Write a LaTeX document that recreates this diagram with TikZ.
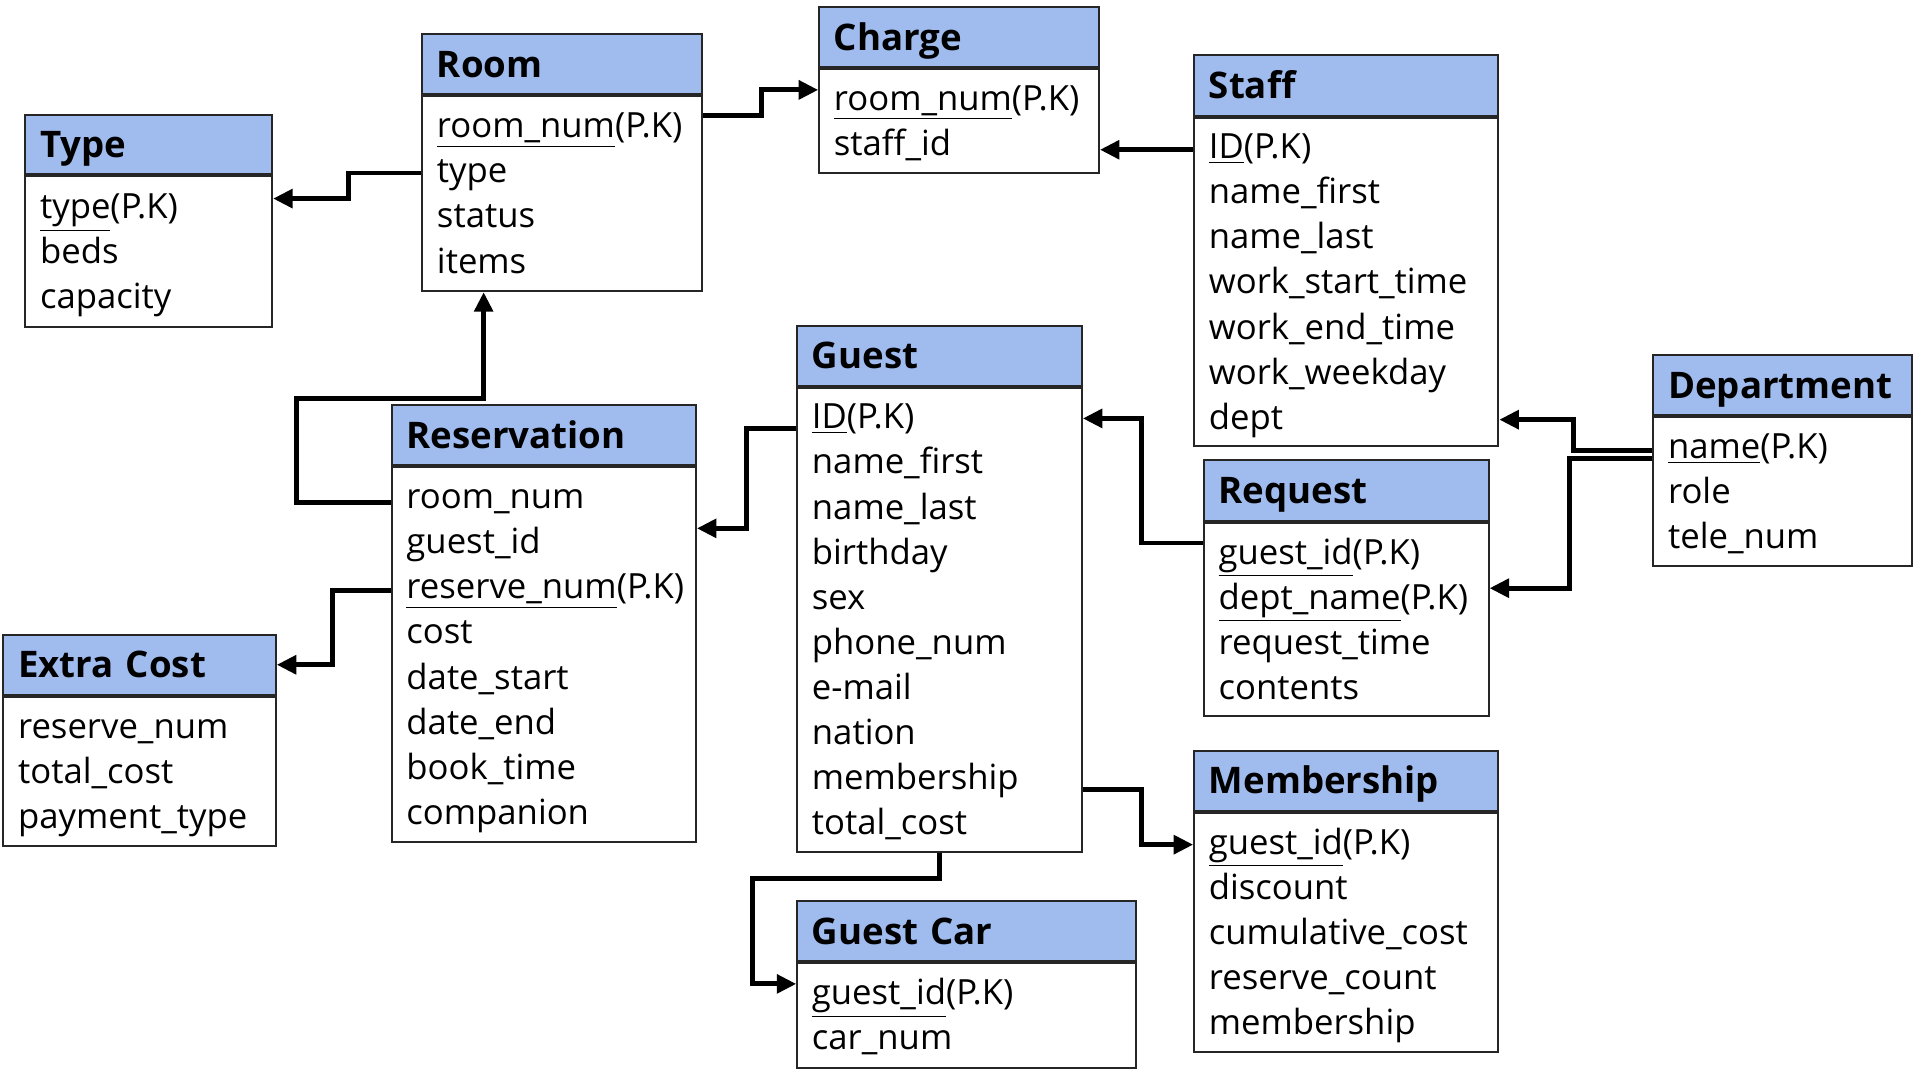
\documentclass[tikz,border=0pt]{standalone}
\usepackage{fontspec}
\setmainfont{Open Sans}
\usetikzlibrary{arrows.meta,calc}

\definecolor{headblue}{RGB}{160,188,238}
\newcommand\tblfont{\fontsize{14.2}{18.45}\selectfont}
\newcommand\tblheadfont{\fontsize{15}{17}\selectfont\bfseries}

\tikzset{
  tblhead/.style={draw=black!85, fill=headblue, line width=0.8pt, anchor=north west,
    inner xsep=6pt, inner ysep=0pt, minimum height=24.5pt, text height=10.8pt, text depth=0pt,
    align=left, font=\tblheadfont},
  tblbody/.style={draw=black!85, fill=white, line width=0.8pt, anchor=north west,
    inner xsep=6pt, inner ysep=0pt, align=left, font=\tblfont,
    execute at begin node=\rule{0pt}{15.3pt}, execute at end node=\rule[-5.5pt]{0pt}{5.5pt}},
  fk/.style={line width=2pt, -{Triangle[length=8pt,width=7.5pt]}}
}

\begin{document}
\begin{tikzpicture}[x=0.5pt,y=-0.5pt]
\useasboundingbox (0,0) rectangle (1568,885);

% tables
\node[tblhead, text width=89pt] (type) at (20,93) {Type};
\node[tblbody, text width=89pt, minimum height=61.5pt] (typeb) at (type.south west)
  {\underline{type}(P.K)\\ beds\\ capacity};

\node[tblhead, text width=102.5pt] (room) at (345,27) {Room};
\node[tblbody, text width=102.5pt, minimum height=80pt] (roomb) at (room.south west)
  {\underline{room\_num}(P.K)\\ type\\ status\\ items};

\node[tblhead, text width=102.5pt] (charge) at (670,5) {Charge};
\node[tblbody, text width=102.5pt, minimum height=42.5pt] (chargeb) at (charge.south west)
  {\underline{room\_num}(P.K)\\ staff\_id};

\node[tblhead, text width=112.5pt, minimum height=25pt] (staff) at (977,44) {Staff};
\node[tblbody, text width=112.5pt, minimum height=134.5pt] (staffb) at (staff.south west)
  {\underline{ID}(P.K)\\ name\_first\\ name\_last\\ work\_start\_time\\ work\_end\_time\\ work\_weekday\\ dept};

\node[tblhead, text width=94pt] (dept) at (1353,290) {Department};
\node[tblbody, text width=94pt, minimum height=61pt] (deptb) at (dept.south west)
  {\underline{name}(P.K)\\ role\\ tele\_num};

\node[tblhead, text width=104.5pt] (guest) at (652,266) {Guest};
\node[tblbody, text width=104.5pt, minimum height=190pt] (guestb) at (guest.south west)
  {\underline{ID}(P.K)\\ name\_first\\ name\_last\\ birthday\\ sex\\ phone\_num\\ e-mail\\ nation\\ membership\\ total\_cost};

\node[tblhead, text width=112.5pt] (resv) at (320,331) {Reservation};
\node[tblbody, text width=112.5pt, minimum height=153.5pt] (resvb) at (resv.south west)
  {room\_num\\ guest\_id\\ \underline{reserve\_num}(P.K)\\ cost\\ date\_start\\ date\_end\\ book\_time\\ companion};

\node[tblhead, text width=104.5pt, minimum height=25pt] (req) at (985,376) {Request};
\node[tblbody, text width=104.5pt, minimum height=79pt] (reqb) at (req.south west)
  {\underline{guest\_id}(P.K)\\ \underline{dept\_name}(P.K)\\ request\_time\\ contents};

\node[tblhead, text width=99.5pt] (extra) at (2,519) {Extra Cost};
\node[tblbody, text width=99.5pt, minimum height=61pt] (extrab) at (extra.south west)
  {reserve\_num\\ total\_cost\\ payment\_type};

\node[tblhead, text width=126.5pt] (car) at (652,737) {Guest Car};
\node[tblbody, text width=126.5pt, minimum height=43pt] (carb) at (car.south west)
  {\underline{guest\_id}(P.K)\\ car\_num};

\node[tblhead, text width=112.5pt] (member) at (977,614) {Membership};
\node[tblbody, text width=112.5pt, minimum height=98pt] (memberb) at (member.south west)
  {\underline{guest\_id}(P.K)\\ discount\\ cumulative\_cost\\ reserve\_count\\ membership};

% foreign keys
\draw[fk] ($(roomb.north west)+(0,64)$) -- ++(-60,0) |- ($(typeb.north east)+(0,19)$);
\draw[fk] ($(roomb.north east)+(0,17)$) -- ++(48,0) |- ($(chargeb.north west)+(0,18)$);
\draw[fk] ($(staffb.north west)+(0,27)$) -- ($(chargeb.north east)+(0,67)$);
\draw[fk] ($(resvb.north west)+(0,30)$) -- ++(-77,0) |- ++(153,-85) -- ($(roomb.south west)+(51,0)$);
\draw[fk] ($(guestb.north west)+(0,34)$) -- ++(-41,0) |- ($(resvb.north east)+(0,51)$);
\draw[fk] ($(resvb.north west)+(0,102)$) -- ++(-48,0) |- (extra.east);
\draw[fk] ($(reqb.north west)+(0,17)$) -- ++(-50,0) |- ($(guestb.north east)+(0,26)$);
\draw[fk] ($(deptb.north west)+(0,28)$) -- ++(-65,0) |- ($(staffb.north east)+(0,248)$);
\draw[fk] ($(deptb.north west)+(0,35)$) -- ++(-68,0) |- ($(reqb.north east)+(0,54)$);
\draw[fk] ($(guestb.north east)+(0,330)$) -- ++(48,0) |- ($(memberb.north west)+(0,27)$);
\draw[fk] (guestb.south) -- ++(0,21) -- ++(-153,0) |- ($(carb.north west)+(0,18)$);
\end{tikzpicture}
\end{document}
